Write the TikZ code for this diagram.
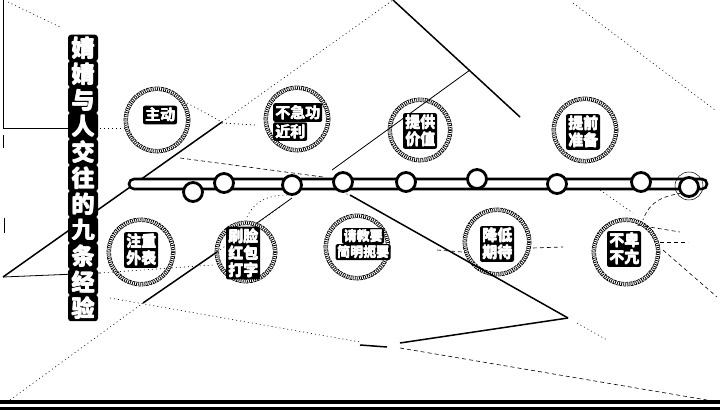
\documentclass[tikz,border=0pt]{standalone}
\usepackage{fontspec}
\newfontfamily\cjk{Noto Sans CJK SC Bold}
\newcommand\fatt[2][0.5pt]{\leavevmode\rlap{\hspace{#1}#2}\rlap{\raisebox{#1}{#2}}\rlap{\hspace{#1}\raisebox{#1}{#2}}#2}
\begin{document}
\begin{tikzpicture}[x=1pt,y=-1pt,
  lbl/.style={fill=black,text=white,font=\cjk\fontsize{15}{17}\selectfont,rounded corners=2pt,inner sep=2pt,align=center},
  lbls/.style={lbl,font=\cjk\fontsize{13}{15}\selectfont,inner sep=1.5pt},
  ttl/.style={fill=black,text=white,font=\cjk\fontsize{23}{24}\selectfont,rounded corners=3pt,inner sep=0pt,minimum width=30pt,minimum height=26.5pt},
  badge/.style={circle,inner sep=0pt},
  ringtick/.style={line width=2.8pt,dash pattern=on 0.8pt off 1.3pt},
  ringline/.style={line width=0.7pt,dash pattern=on 3pt off 0.8pt},
  stopc/.style={circle,draw=black,line width=2.8pt,fill=white,minimum size=19pt,inner sep=0pt},
  barbox/.style={draw=black,line width=2.6pt,fill=white,rounded corners=5pt,minimum width=578pt,minimum height=10pt,inner sep=0pt},
  bgsolid/.style={line width=0.8pt},
  bgthick/.style={line width=1.5pt},
  bgdot/.style={line width=0.6pt,dash pattern=on 1pt off 3pt},
  bgdash/.style={line width=0.6pt,dash pattern=on 4pt off 3pt}]
\useasboundingbox (0,0) rectangle (720,411);
\fill[white] (0,0) rectangle (720,411);
% background lines
\draw[bgsolid] (3,0) -- (3,128) -- (72,128);
\draw[bgdot] (72,128) -- (125,128);
\draw[bgsolid] (3,135) -- (3,148);
\draw[bgsolid] (4,218) -- (4,233);
\draw[bgdot] (8,2) -- (60,27);
\draw[bgthick] (3,277) -- (222,122);
\draw[bgdot] (222,122) -- (393,0);
\draw[bgthick] (393,0) -- (520,117);
\draw[bgsolid] (470,70) -- (332,170);
\draw[bgdot] (187,103) -- (222,122);
\draw[bgdot] (222,123) -- (255,125);
\draw[bgdash] (180,158) -- (323,177);
\draw[bgsolid] (3,277) -- (100,273);
\draw[bgdot] (100,273) -- (213,265);
\draw[bgdot] (10,400) -- (143,303);
\draw[bgthick] (143,303) -- (217,252);
\draw[bgdot] (217,252) -- (280,207);
\draw[bgdot] (110,298) -- (360,342);
\draw[bgthick] (360,345) -- (387,347);
\draw[bgthick] (400,343) -- (568,318);
\draw[bgthick] (350,195) -- (568,318);
\draw[bgdash] (400,348) -- (707,400);
\draw[bgdot] (577,323) -- (607,340);
\draw[bgdot] (600,190) -- (633,213);
\draw[bgdash] (663,250) -- (717,297);
\draw[bgdash] (637,225) -- (680,232);
\draw[bgdash] (660,242) -- (688,242);
\draw[bgdash] (437,250) -- (462,252);
\draw[bgdash] (533,248) -- (563,247);
\draw[bgdot] (573,3) -- (715,110);
\draw[bgsolid] (292,198) -- (257,223);
\draw[bgdot] (247,217) .. controls (255,200) and (270,195) .. (287,195);
\draw[bgdot] (343,192) -- (368,205);
\draw[bgdash] (682,193) .. controls (665,196) and (650,200) .. (643,220);
% timeline bar
\node[barbox] (bar) at (418,184) {};
\draw[line width=0.5pt] (689,186) circle[radius=14];
\foreach \n/\x/\y in {s1/193/192, s2/224/183, s3/292/185, s4/343/182, s5/406/182, s6/477/179, s7/557/184, s8/641/182, s9/689/187}{
  \node[stopc] (\n) at (\x,\y) {};
}
% badge rings
\foreach \n/\x/\y/\r in {b1/157/120/33, b2/297/119/33, b3/420/130/32, b4/585/130/33, b5/141/252/34, b6/246/252/31, b7/357/247/33, b8/497/242/34, b9/626/252/34}{
  \node[badge,minimum size=2*\r pt] (\n) at (\x,\y) {};
  \draw[ringtick] (\n.center) circle[radius=\r-1.8];
  \draw[ringline] (\n.center) circle[radius=\r];
  \draw[ringline] (\n.center) circle[radius=\r-3.6];
}
% badge labels
\node[lbl] (t1) at (160,115) {\fatt{主动}};
\node[lbl,anchor=north west] (t2a) at (273,103) {\fatt{不急功}};
\node[lbl,anchor=north west] (t2b) at (t2a.south west) {\fatt{近利}};
\node[lbl] (t3) at (420,131) {\fatt{提供}\\\fatt{价值}};
\node[lbl] (t4) at (583,132) {\fatt{提前}\\\fatt{准备}};
\node[lbl] (t5) at (141,250) {\fatt{注重}\\\fatt{外表}};
\node[lbl] (t6) at (243,253) {\fatt{刷脸}\\\fatt{红包}\\\fatt{打字}};
\node[lbls] (t7a) at (363,236) {\fatt[0.4pt]{请教要}};
\node[lbls,anchor=north] (t7b) at (t7a.south) {\fatt[0.4pt]{简明扼要}};
\node[lbl] (t8) at (497,244) {\fatt{降低}\\\fatt{期待}};
\node[lbl] (t9) at (624,249) {\fatt{不卑}\\\fatt{不亢}};
% title
\foreach \c [count=\i] in {婧,婧,与,人,交,往,的,九,条,经,验}{
  \node[ttl] (h\i) at (83,{48+26*(\i-1)}) {\fatt[0.8pt]{\c}};
}
% bottom rules
\draw[line width=4pt] (0,402) -- (720,402);
\draw[line width=3pt] (0,408.5) -- (720,408.5);
\end{tikzpicture}
\end{document}
